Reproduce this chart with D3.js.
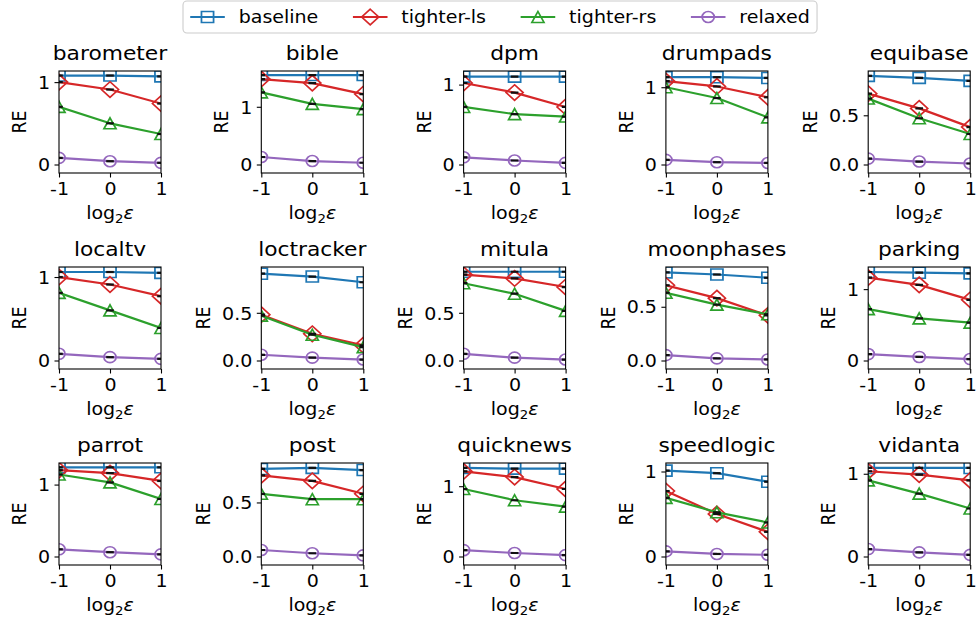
<!DOCTYPE html>
<html>
<head>
<meta charset="utf-8">
<script src="https://cdn.jsdelivr.net/npm/d3@7"></script>
<style>
  body { margin: 0; background: #fff; }
  text { font-family: "DejaVu Sans", sans-serif; fill: #000; }
</style>
</head>
<body>
<svg id="chart" width="977" height="624"></svg>
<script>
// ---- data -------------------------------------------------------------
const datasets = ["barometer", "bible", "dpm", "drumpads", "equibase",
                  "localtv", "loctracker", "mitula", "moonphases", "parking",
                  "parrot", "post", "quicknews", "speedlogic", "vidanta"];
const xValues = [-1, 0, 1];          // log2(epsilon)
const xTicks = [-1, 0, 1];
const seriesNames = ["baseline", "tighter-ls", "tighter-rs", "relaxed"];

const baseline = [
  [1.08, 1.08, 1.07], [1.55, 1.55, 1.55], [1.10, 1.10, 1.10], [1.13, 1.13, 1.12], [0.90, 0.88, 0.85],
  [1.06, 1.06, 1.05], [0.91, 0.88, 0.82], [0.93, 0.93, 0.93], [0.82, 0.80, 0.77], [1.24, 1.23, 1.22],
  [1.24, 1.24, 1.24], [0.81, 0.82, 0.80], [1.26, 1.25, 1.25], [1.01, 0.98, 0.88], [1.07, 1.07, 1.07]
];
const tighterLs = [
  [1.00, 0.91, 0.74], [1.48, 1.41, 1.22], [1.02, 0.90, 0.72], [1.08, 1.01, 0.87], [0.72, 0.57, 0.38],
  [1.00, 0.91, 0.77], [0.48, 0.28, 0.16], [0.90, 0.86, 0.77], [0.70, 0.58, 0.42], [1.16, 1.06, 0.85],
  [1.20, 1.16, 1.05], [0.75, 0.70, 0.58], [1.21, 1.13, 0.96], [0.77, 0.50, 0.29], [1.03, 0.99, 0.92]
];
const tighterRs = [
  [0.70, 0.50, 0.37], [1.25, 1.05, 0.96], [0.72, 0.63, 0.60], [1.00, 0.86, 0.61], [0.67, 0.47, 0.31],
  [0.81, 0.60, 0.39], [0.47, 0.27, 0.14], [0.81, 0.70, 0.52], [0.63, 0.52, 0.43], [0.72, 0.59, 0.53],
  [1.14, 1.03, 0.80], [0.58, 0.53, 0.53], [0.96, 0.80, 0.71], [0.69, 0.52, 0.40], [0.92, 0.76, 0.58]
];
const relaxed = [
  [0.08, 0.04, 0.02], [0.13, 0.06, 0.03], [0.09, 0.05, 0.02], [0.06, 0.03, 0.02], [0.06, 0.03, 0.01],
  [0.08, 0.04, 0.02], [0.06, 0.03, 0.01], [0.07, 0.03, 0.01], [0.05, 0.02, 0.01], [0.09, 0.05, 0.02],
  [0.10, 0.06, 0.03], [0.06, 0.03, 0.01], [0.09, 0.05, 0.02], [0.06, 0.03, 0.02], [0.09, 0.05, 0.02]
];
// upper y limit of each panel
const yTop = [1.135, 1.62, 1.17, 1.21, 0.95,
              1.12, 0.98, 0.98, 0.87, 1.31,
              1.30, 0.865, 1.33, 1.10, 1.13];
const yTicks = [
  [0, 1], [0, 1], [0, 1], [0, 1], [0, 0.5],
  [0, 1], [0, 0.5], [0, 0.5], [0, 0.5], [0, 1],
  [0, 1], [0, 0.5], [0, 1], [0, 1], [0, 1]
];

// ---- styling ------------------------------------------------------------
const colors = ["#1f77b4", "#d62728", "#2ca02c", "#9467bd"];
const markerKinds = ["square", "diamond", "triangle", "circle"];
const seriesValues = [baseline, tighterLs, tighterRs, relaxed];

const SX = 1.1;          // horizontal glyph stretch
const FS = 17.3;         // tick / label / legend font size
const TFS = 19.8;        // title font size
const colLeft0 = 59, colStep = 202.3, axW = 102;
const rowTop0 = 71, rowStep = 196, axH = 102;
const zeroOffset = 8.5;  // pixels between y=0 and the bottom spine
const MS = 11;           // marker size

const svg = d3.select("#chart");

function markerPath(kind) {
  const h = MS / 2;
  if (kind === "square") return `M${-h},${-h}H${h}V${h}H${-h}Z`;
  if (kind === "diamond") { const d = MS / Math.SQRT2; return `M0,${-d}L${d},0L0,${d}L${-d},0Z`; }
  if (kind === "triangle") return `M0,${-h}L${h},${h}L${-h},${h}Z`;
  return d3.arc()({innerRadius: 0, outerRadius: h, startAngle: 0, endAngle: 2 * Math.PI});
}

function addText(parent, x, y, str, size, anchor, rotate) {
  const g = parent.append("g")
    .attr("transform", `translate(${x},${y}) scale(${SX},1)` + (rotate ? ` rotate(${rotate})` : ""));
  const t = g.append("text").attr("font-size", size).attr("text-anchor", anchor);
  if (str !== null) t.text(str);
  return t;
}

// ---- panels -------------------------------------------------------------
datasets.forEach((name, i) => {
  const col = i % 5, row = Math.floor(i / 5);
  const left = colLeft0 + col * colStep, top = rowTop0 + row * rowStep;
  const g = svg.append("g").attr("transform", `translate(${left},${top})`);

  const yMax = yTop[i];
  const yMin = -yMax * zeroOffset / (axH - zeroOffset);
  const x = d3.scaleLinear().domain([-1, 1]).range([0, axW]);
  const y = d3.scaleLinear().domain([yMin, yMax]).range([axH, 0]);

  svg.append("clipPath").attr("id", "clip" + i)
    .append("rect").attr("x", 0).attr("y", 0).attr("width", axW).attr("height", axH);
  const plot = g.append("g").attr("clip-path", `url(#clip${i})`);

  const line = d3.line().x((d, k) => x(xValues[k])).y(d => y(d));

  seriesValues.forEach((vals, s) => {
    const v = vals[i];
    plot.append("path").datum(v).attr("d", line)
      .attr("fill", "none").attr("stroke", colors[s]).attr("stroke-width", 2.2)
      .attr("stroke-linejoin", "round");
    plot.selectAll(null).data(v).enter().append("path")
      .attr("d", markerPath(markerKinds[s]))
      .attr("transform", (d, k) => `translate(${x(xValues[k])},${y(d)}) scale(${SX},1)`)
      .attr("fill", "none").attr("stroke", colors[s]).attr("stroke-width", 1.6);
  });
  // black mean marks
  seriesValues.forEach(vals => {
    plot.selectAll(null).data(vals[i]).enter().append("line")
      .attr("x1", (d, k) => x(xValues[k]) - 3.8).attr("x2", (d, k) => x(xValues[k]) + 3.8)
      .attr("y1", d => y(d)).attr("y2", d => y(d))
      .attr("stroke", "#111").attr("stroke-width", 2.2);
  });

  // axes
  const half = yTicks[i].some(t => t % 1 !== 0);
  const yAxis = d3.axisLeft(y).tickValues(yTicks[i]).tickSize(4.5).tickPadding(4.5)
    .tickFormat(d3.format(half ? ".1f" : "d"));
  const yg = g.append("g").call(yAxis);
  yg.select(".domain").remove();
  yg.selectAll(".tick line").attr("stroke", "#000").attr("stroke-width", 1.1);
  yg.selectAll(".tick text").attr("font-size", FS).attr("font-family", "DejaVu Sans")
    .attr("transform", `scale(${SX},1)`).attr("x", -9 / SX).attr("dy", "0.36em");

  const xAxis = d3.axisBottom(x).tickValues(xTicks).tickSize(4.5).tickPadding(4.5)
    .tickFormat(d => String(d));
  const xg = g.append("g").attr("transform", `translate(0,${axH})`).call(xAxis);
  xg.select(".domain").remove();
  xg.selectAll(".tick line").attr("stroke", "#000").attr("stroke-width", 1.1);
  xg.selectAll(".tick text").attr("font-size", FS).attr("font-family", "DejaVu Sans")
    .attr("transform", `scale(${SX},1)`)
    .each(function () {
      const p = d3.select(this.parentNode).attr("transform");
      const tx = +p.match(/translate\(([-\d.]+)/)[1];
      d3.select(this.parentNode).attr("transform", `translate(${tx},0)`);
      d3.select(this).attr("x", 0).attr("y", 9).attr("dy", "0.76em");
    });

  // spines
  g.append("rect").attr("x", 0).attr("y", 0).attr("width", axW).attr("height", axH)
    .attr("fill", "none").attr("stroke", "#000").attr("stroke-width", 1.1);

  // title
  addText(g, axW / 2, -11, name, TFS, "middle");

  // y label, placed left of the widest tick label
  let minX = 0;
  yg.selectAll(".tick text").each(function () {
    const b = this.getBBox();
    minX = Math.min(minX, b.x * SX);
  });
  addText(g, minX - 12, axH / 2, "RE", FS, "middle", -90);

  // x label: log_2 epsilon
  const xl = addText(g, axW / 2, axH + 46, null, FS, "middle");
  xl.append("tspan").text("log");
  xl.append("tspan").attr("font-size", FS * 0.7).attr("dy", 4).text("2");
  xl.append("tspan").attr("dy", -4).attr("font-style", "italic").text("ε");
});

// ---- legend -------------------------------------------------------------
const legend = svg.append("g");
const legLeft = 183, legTop = 1, legH = 32;
const box = legend.append("rect").attr("x", legLeft).attr("y", legTop).attr("height", legH)
  .attr("rx", 4).attr("fill", "#fff").attr("stroke", "#cccccc").attr("stroke-width", 1.1);
let cx = legLeft + 0.4 * FS + 0.3;
const cy = legTop + legH / 2;
seriesNames.forEach((nm, s) => {
  const hl = 2 * FS;
  legend.append("line").attr("x1", cx).attr("x2", cx + hl).attr("y1", cy).attr("y2", cy)
    .attr("stroke", colors[s]).attr("stroke-width", 2.2);
  legend.append("path").attr("d", markerPath(markerKinds[s]))
    .attr("transform", `translate(${cx + hl / 2},${cy}) scale(${SX},1)`)
    .attr("fill", "none").attr("stroke", colors[s]).attr("stroke-width", 1.6);
  cx += hl + 0.8 * FS;
  const t = addText(legend, cx, cy + 6.2, nm, FS, "start");
  const w = t.node().getComputedTextLength() * SX;
  cx += w;
  if (s < seriesNames.length - 1) cx += 2 * FS;
});
box.attr("width", cx + 0.4 * FS + 0.3 - legLeft);
</script>
</body>
</html>
